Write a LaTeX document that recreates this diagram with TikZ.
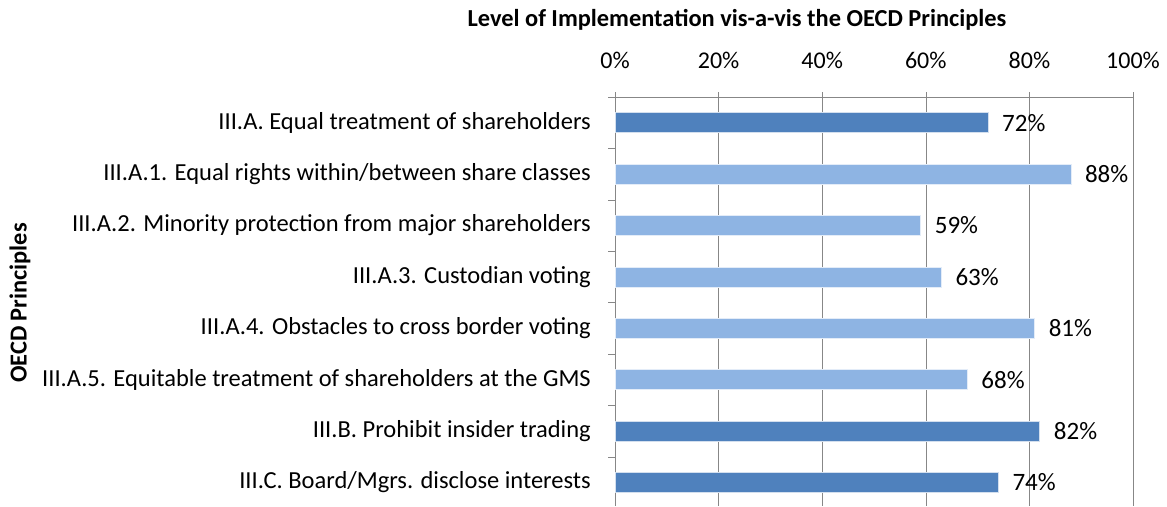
\documentclass[tikz,border=0pt]{standalone}
\usepackage{fontspec}
\setmainfont{Carlito}
\usetikzlibrary{positioning}

\definecolor{bardark}{HTML}{4F81BD}
\definecolor{barlight}{HTML}{8EB4E3}
\definecolor{gridgray}{HTML}{878787}

\tikzset{
  bar/.style={draw=white!75!#1, fill=#1, line width=0.6pt, inner sep=0pt,
    outer sep=0pt, minimum height=20pt, anchor=west},
  catlabel/.style={anchor=east, inner sep=0pt, font=\fontsize{24.5}{28}\selectfont},
  vallabel/.style={anchor=west, inner sep=0pt, font=\fontsize{25}{28}\selectfont},
  ticklabel/.style={inner sep=0pt, font=\fontsize{24}{28}\selectfont},
  axistitle/.style={inner sep=0pt, font=\bfseries\fontsize{24.4}{28}\selectfont}
}

\begin{document}
\begin{tikzpicture}[x=1pt,y=-1pt]
  \useasboundingbox (0,0) rectangle (1167,506);

  % grilă verticală și etichetele procentelor
  \foreach \p in {0,20,...,100}
  {
    \draw[gridgray] (615+5.18*\p,92) -- (615+5.18*\p,506);
    \node[ticklabel] (tick\p) at (615+5.18*\p,60) {\p\%};
  }

  % axele
  \draw[gridgray] (615,97) -- (1133,97);
  \draw[gridgray] (615,97) -- (615,506);
  \foreach \k in {0,...,7}
    \draw[gridgray] (608,97+51.4*\k) -- (615,97+51.4*\k);

  % bare, etichete și valori
  \foreach \v/\lab/\col [count=\i] in {
    72/{III.A. Equal treatment of shareholders}/bardark,
    88/{III.A.1. Equal rights within/between share classes}/barlight,
    59/{III.A.2. Minority protection from major shareholders}/barlight,
    63/{III.A.3. Custodian voting}/barlight,
    81/{III.A.4. Obstacles to cross border voting}/barlight,
    68/{III.A.5. Equitable treatment of shareholders at the GMS}/barlight,
    82/{III.B. Prohibit insider trading}/bardark,
    74/{III.C. Board/Mgrs. disclose interests}/bardark}
  {
    \node[bar=\col, minimum width={\v*5.18pt}] (bar\i) at (615,97+51.4*\i-25.7) {};
    \node[vallabel, right=14pt of bar\i] (val\i) {\v\%};
    \node[catlabel] (cat\i) at (591,97+51.4*\i-25.7) {\lab};
  }

  % titlurile axelor
  \node[axistitle] (xtitle) at (737,20) {Level of Implementation vis-a-vis the OECD Principles};
  \node[axistitle, rotate=90] (ytitle) at (20,303) {OECD Principles};
\end{tikzpicture}
\end{document}
